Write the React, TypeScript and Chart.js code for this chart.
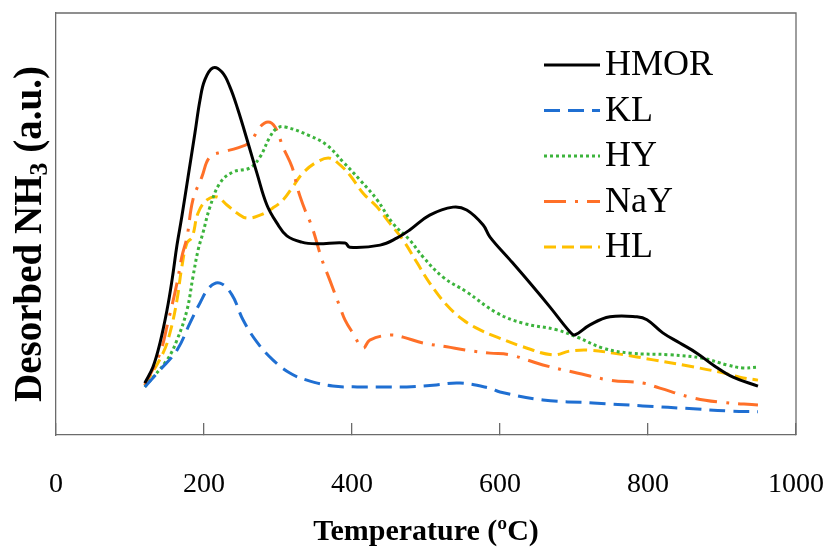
import React, { useEffect, useRef } from "react";
import { Chart, registerables } from "chart.js";

Chart.register(...registerables);

// Temperature (ºC) / desorbed NH3 (a.u.)
const hmorT = [120, 131, 140.5, 150, 156.8, 163.5, 170, 178.4, 187.8, 194.6, 201, 212, 224.3, 235, 246, 259, 271.6, 285, 298.6, 312, 332, 352.7, 390.5, 397, 438, 461, 478, 505, 536.5, 555, 577, 586.5, 613.5, 640.5, 667.6, 694.6, 701, 721.6, 748.6, 785, 798.6, 820, 843, 866, 888, 915, 948.6];
const hmorY = [12.3, 16.1, 21.8, 29.6, 36.7, 45.0, 51.7, 61.1, 71.6, 79.4, 84.1, 87.0, 86.0, 82.5, 77.0, 69.5, 62.0, 54.5, 50.2, 47.2, 45.7, 45.3, 45.5, 44.5, 45.0, 46.7, 48.6, 52.1, 54.0, 53.3, 49.8, 46.9, 41.5, 36.0, 30.3, 24.4, 23.7, 26.1, 28.0, 28.0, 27.3, 24.2, 21.8, 19.4, 16.6, 13.7, 11.6];

const klT = [120, 140.5, 163.5, 181, 194.6, 208, 221.6, 237.8, 252.7, 271.6, 293, 316, 339, 374, 406.8, 442, 474, 509.5, 546, 586.5, 600, 658, 725.7, 793, 861, 907, 948.6];
const klY = [11.4, 15.4, 20.1, 26.5, 31.3, 35.1, 36.0, 33.2, 27.3, 22.0, 17.8, 14.7, 13.0, 11.6, 11.4, 11.4, 11.4, 11.8, 12.3, 11.1, 10.2, 8.3, 7.6, 6.9, 6.2, 5.7, 5.5];

const hyT = [120, 150, 163.5, 177, 185, 192, 198.6, 208, 221.6, 239, 262, 275.7, 289, 298.6, 309.5, 343, 366, 388, 411, 434, 455, 478, 496, 523, 555, 596, 631, 677, 704, 739, 776, 830, 874, 907, 928, 948.6];
const hyY = [11.4, 17.8, 22.5, 29.6, 37.4, 43.8, 47.9, 54.0, 59.7, 62.3, 63.3, 65.9, 70.6, 72.7, 73.0, 70.9, 68.7, 64.7, 60.4, 55.7, 50.2, 46.2, 42.2, 37.4, 33.9, 28.9, 26.5, 24.9, 23.2, 20.6, 19.4, 19.0, 18.2, 16.6, 15.9, 16.1];

const naYT = [120, 140.5, 151, 163.5, 170, 177, 185, 197, 208, 225.7, 244.6, 262, 275.7, 286.5, 296, 306.8, 319, 327, 336.5, 346, 359.5, 370, 383.8, 390.5, 401, 415, 424, 451, 469, 496, 528, 555, 586.5, 613.5, 658, 704, 748.6, 793, 816, 861, 897, 948.6];
const naYY = [11.8, 19.4, 26.5, 36.0, 42.2, 46.9, 55.7, 61.1, 65.9, 67.1, 68.0, 69.4, 73.0, 74.2, 73.0, 68.2, 63.5, 58.1, 53.3, 49.3, 41.5, 36.7, 30.3, 27.3, 24.2, 20.6, 22.5, 23.7, 23.2, 21.8, 20.9, 20.1, 19.4, 19.0, 16.6, 14.7, 13.0, 12.3, 11.1, 8.8, 7.8, 7.1];

const hlT = [120, 144.6, 154, 163.5, 170, 177, 184, 192, 204, 217.6, 231, 244.6, 258, 275.7, 293, 306.8, 320, 333.8, 352.7, 370, 383.8, 397, 415, 434, 451, 469, 488, 505, 528, 550, 573, 596, 631, 671.6, 694.6, 721.6, 752.7, 785, 807, 853, 897, 924, 948.6];
const hlY = [11.8, 19.4, 24.2, 32.0, 39.8, 45.5, 46.9, 52.6, 55.7, 56.4, 54.5, 52.6, 51.4, 52.1, 53.8, 55.7, 58.8, 62.1, 64.7, 65.6, 64.0, 61.6, 57.3, 54.0, 50.2, 46.2, 40.8, 36.0, 30.8, 27.3, 24.9, 23.2, 20.9, 19.0, 19.9, 20.1, 19.4, 18.5, 17.8, 16.4, 14.9, 13.7, 13.0];

const seriesNames = ["HMOR", "KL", "HY", "NaY", "HL"];
const xTicks = [0, 200, 400, 600, 800, 1000];

const AXIS = "#6b6b6b";
const SERIF = "'Liberation Serif', 'DejaVu Serif', serif";

const pts = (t: number[], y: number[]) => t.map((v, i) => ({ x: v, y: y[i] }));

const boxPlugin = {
  id: "boxPlugin",
  afterDraw(chart: any) {
    const { ctx, chartArea: a } = chart;
    ctx.save();
    ctx.strokeStyle = AXIS;
    ctx.lineWidth = 1.3;
    ctx.setLineDash([]);
    ctx.beginPath();
    ctx.moveTo(a.left, a.top);
    ctx.lineTo(a.right, a.top);
    ctx.lineTo(a.right, a.bottom);
    ctx.stroke();

    // legend inside the plot
    const x0 = a.left + 488;
    chart.data.datasets.forEach((ds: any, i: number) => {
      const y = a.top + 52 + i * 45.5;
      ctx.strokeStyle = ds.borderColor;
      ctx.lineWidth = 3;
      ctx.setLineDash(ds.borderDash || []);
      ctx.beginPath();
      ctx.moveTo(x0, y);
      ctx.lineTo(x0 + 56, y);
      ctx.stroke();
      ctx.setLineDash([]);
      ctx.fillStyle = "#000";
      ctx.font = `36px ${SERIF}`;
      ctx.textBaseline = "middle";
      ctx.textAlign = "left";
      ctx.fillText(ds.label, x0 + 61, y + 1);
    });

    // y-axis title with subscript
    const big = `bold 39px ${SERIF}`;
    const small = `bold 26px ${SERIF}`;
    ctx.font = big;
    const p1 = "Desorbed NH";
    const p3 = " (a.u.)";
    const w1 = ctx.measureText(p1).width;
    const w3 = ctx.measureText(p3).width;
    ctx.font = small;
    const w2 = ctx.measureText("3").width;
    const total = w1 + w2 + w3;
    const cy = 234;
    ctx.translate(41, cy + total / 2);
    ctx.rotate(-Math.PI / 2);
    ctx.fillStyle = "#000";
    ctx.textBaseline = "alphabetic";
    ctx.textAlign = "left";
    ctx.font = big;
    ctx.fillText(p1, 0, 0);
    ctx.font = small;
    ctx.fillText("3", w1, 6);
    ctx.font = big;
    ctx.fillText(p3, w1 + w2, 0);
    ctx.restore();
  },
};

export default function App() {
  const ref = useRef<HTMLCanvasElement | null>(null);
  useEffect(() => {
    document.body.style.margin = "0";
    const base = { pointRadius: 0, borderWidth: 3, fill: false, tension: 0.4, borderCapStyle: "butt" as const, borderJoinStyle: "round" as const };
    const chart = new Chart(ref.current as HTMLCanvasElement, {
      type: "line",
      data: {
        datasets: [
          { ...base, label: seriesNames[0], data: pts(hmorT, hmorY), borderColor: "#000000", borderDash: [] },
          { ...base, label: seriesNames[1], data: pts(klT, klY), borderColor: "#1f6fd2", borderDash: [16, 8] },
          { ...base, label: seriesNames[2], data: pts(hyT, hyY), borderColor: "#3cb43c", borderDash: [3, 3] },
          { ...base, label: seriesNames[3], data: pts(naYT, naYY), borderColor: "#ff7028", borderDash: [22, 9, 3, 9] },
          { ...base, label: seriesNames[4], data: pts(hlT, hlY), borderColor: "#ffc000", borderDash: [12, 6] },
        ] as any,
      },
      options: {
        animation: false,
        responsive: false,
        maintainAspectRatio: false,
        layout: { padding: { left: 0, top: 13, right: 31, bottom: 0 } },
        plugins: { legend: { display: false }, tooltip: { enabled: false } },
        scales: {
          x: {
            type: "linear",
            min: 0,
            max: 1000,
            afterBuildTicks: (s: any) => { s.ticks = xTicks.map((v) => ({ value: v })); },
            ticks: { font: { family: SERIF, size: 28 }, color: "#000", padding: 45, maxRotation: 0, callback: (v: any) => String(v) },
            grid: { display: true, drawOnChartArea: false, drawTicks: true, tickLength: -12, color: AXIS, lineWidth: 1.3 },
            border: { display: true, color: AXIS, width: 1.3 },
            title: { display: true, text: "Temperature (ºC)", font: { family: SERIF, size: 30, weight: "bold" }, color: "#000", padding: { top: 0, bottom: 0 } },
            afterFit: (s: any) => { s.height = 115; s.paddingLeft = 0; s.paddingRight = 0; },
          },
          y: {
            type: "linear",
            min: 0,
            max: 100,
            ticks: { display: false },
            grid: { display: false },
            border: { display: true, color: AXIS, width: 1.3 },
            afterFit: (s: any) => { s.width = 56; s.paddingTop = 0; s.paddingBottom = 0; },
          },
        },
      },
      plugins: [boxPlugin],
    });
    return () => chart.destroy();
  }, []);
  return (
    <div style={{ width: 827, height: 550 }}>
      <canvas ref={ref} width={827} height={550} style={{ width: 827, height: 550, display: "block" }} />
    </div>
  );
}
